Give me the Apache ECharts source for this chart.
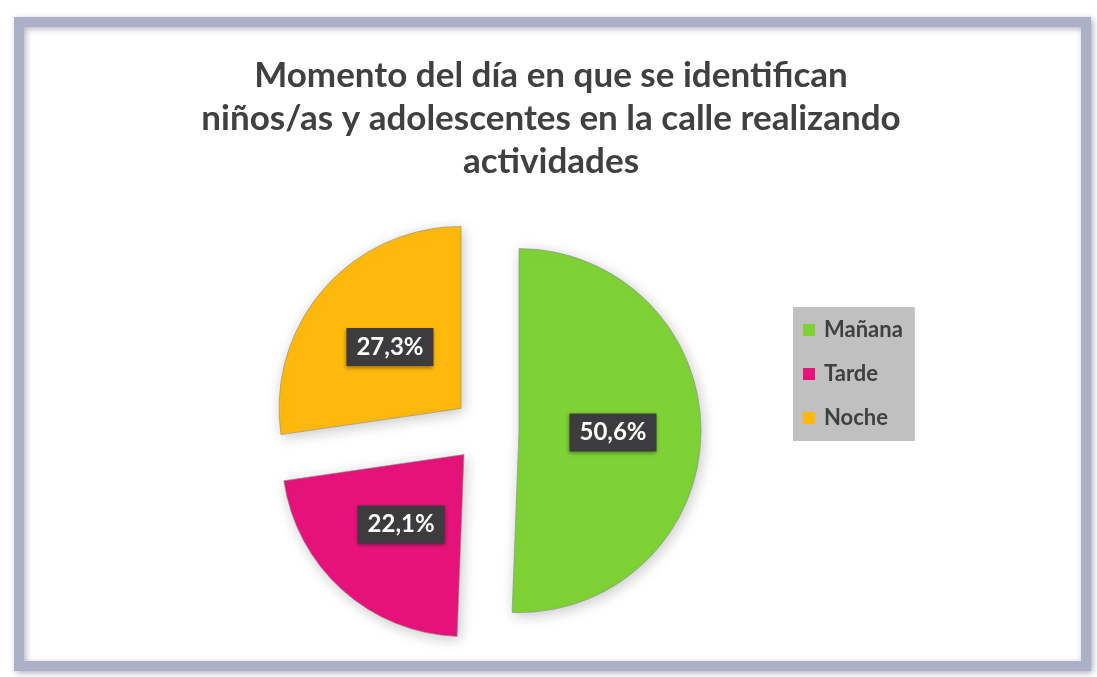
<!DOCTYPE html>
<html>
<head>
<meta charset="utf-8">
<script src="https://cdn.jsdelivr.net/npm/echarts@6/dist/echarts.min.js"></script>
<style>
  html, body { margin: 0; padding: 0; background: #ffffff; }
  #chart { width: 1097px; height: 677px; }
</style>
</head>
<body>
<div id="chart"></div>
<script>
const categories = ['Mañana', 'Tarde', 'Noche']
const shares = [50.6, 22.1, 27.3]
const colors = ['#7ED236', '#E5137A', '#FFB90D']

const chart = echarts.init(document.getElementById('chart'), null, { renderer: 'canvas' })

chart.setOption({
  backgroundColor: '#ffffff',
  animation: false,
  graphic: [{
    type: 'rect',
    shape: { x: 19, y: 22, width: 1067, height: 644 },
    style: {
      fill: '#ffffff',
      stroke: '#abb0c7',
      lineWidth: 10,
      shadowBlur: 6,
      shadowColor: 'rgba(90,95,120,0.45)',
      shadowOffsetX: 2,
      shadowOffsetY: 2,
    },
    z: -10,
  }],
  title: {
    text: 'Momento del día en que se identifican\nniños/as y adolescentes en la calle realizando\nactividades',
    left: 546,
    textAlign: 'center',
    top: 49,
    textStyle: {
      fontFamily: 'Lato',
      fontSize: 35,
      fontWeight: 'bold',
      color: '#404040',
      lineHeight: 43,
    },
  },
  legend: {
    orient: 'vertical',
    left: 793,
    top: 307,
    backgroundColor: '#c0c0c0',
    padding: [12, 12, 12, 10],
    itemGap: 22,
    itemWidth: 12,
    itemHeight: 12,
    icon: 'rect',
    itemStyle: { borderWidth: 0, shadowBlur: 0 },
    textStyle: { fontFamily: 'Lato', fontSize: 22, fontWeight: 'bold', color: '#404040', padding: [0, 0, 0, 4] },
    data: categories,
  },
  series: [{
    type: 'pie',
    center: [486, 430],
    radius: 182,
    startAngle: 90,
    clockwise: true,
    selectedMode: 'multiple',
    selectedOffset: 33,
    itemStyle: {
      borderColor: '#8c8c8c',
      borderWidth: 0.6,
      shadowBlur: 14,
      shadowColor: 'rgba(0,0,0,0.22)',
      shadowOffsetX: 2,
      shadowOffsetY: 3,
    },
    label: {
      show: true,
      position: 'inside',
      formatter: (p) => p.value.toFixed(1).replace('.', ',') + '%',
      backgroundColor: '#3c3c3e',
      color: '#ffffff',
      fontFamily: 'Lato',
      fontWeight: 'bold',
      fontSize: 24,
      padding: [8, 10, 6, 10],
      shadowBlur: 4,
      shadowColor: 'rgba(0,0,0,0.4)',
      shadowOffsetY: 2,
    },
    emphasis: { disabled: true },
    labelLine: { show: false },
    data: categories.map((c, i) => ({
      name: c,
      value: shares[i],
      selected: true,
      itemStyle: { color: colors[i] },
    })),
  }],
})
</script>
</body>
</html>
